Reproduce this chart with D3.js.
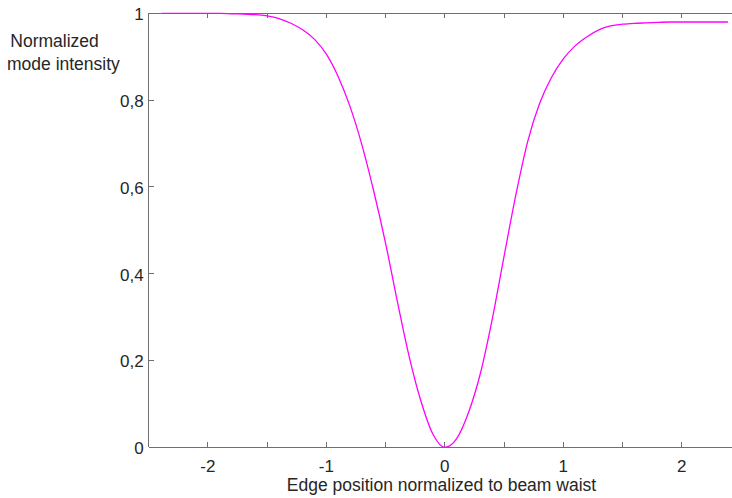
<!DOCTYPE html>
<html>
<head>
<meta charset="utf-8">
<script src="https://cdn.jsdelivr.net/npm/d3@7"></script>
<style>
  html, body { margin: 0; padding: 0; background: #fff; }
  svg { display: block; }
  text { font-family: "Liberation Sans", Arial, Helvetica, sans-serif; fill: #262626; }
</style>
</head>
<body>
<svg id="chart" width="732" height="498"></svg>
<script>
// Edge position (in units of the beam waist) and the normalized mode intensity
const edgePosition = [
  -2.39, -2.3, -2.2, -2.1, -2.0, -1.9, -1.8, -1.7, -1.6, -1.5, -1.4, -1.3, -1.2, -1.1,
  -1.0, -0.9, -0.8, -0.7, -0.6, -0.5, -0.4, -0.3, -0.2, -0.1, 0.0,
  0.1, 0.2, 0.3, 0.4, 0.5, 0.6, 0.7, 0.8, 0.9, 1.0, 1.1, 1.2, 1.3, 1.4,
  1.5, 1.6, 1.7, 1.8, 1.9, 2.0, 2.1, 2.2, 2.3, 2.39
];
const modeIntensity = [
  1.000, 1.000, 1.000, 1.000, 1.000, 1.000, 0.999, 0.998, 0.997, 0.994, 0.988, 0.977, 0.962, 0.940,
  0.906, 0.854, 0.785, 0.697, 0.590, 0.470, 0.335, 0.208, 0.105, 0.030, 0.000,
  0.020, 0.080, 0.170, 0.295, 0.440, 0.582, 0.705, 0.792, 0.852, 0.895, 0.925, 0.946, 0.962, 0.971,
  0.975, 0.977, 0.978, 0.979, 0.980, 0.980, 0.980, 0.980, 0.980, 0.980
];

// Axis ticks
const xTickValues = [-2, -1, 0, 1, 2];
const xTickLabels = ["-2", "-1", "0", "1", "2"];
const xMinorTicks = [-1.5, -0.5, 0.5, 1.5];
const yTickValues = [0, 0.2, 0.4, 0.6, 0.8, 1];
const yTickLabels = ["0", "0,2", "0,4", "0,6", "0,8", "1"];

const xLabel = "Edge position normalized to beam waist";
const yLabelLines = ["Normalized", "mode intensity"];

const svg = d3.select("#chart");
const W = 732;
const plotLeft = 148.7, plotTop = 13.3, plotBottom = 447.3;
const unit = 118.45;

const x = d3.scaleLinear().domain([-2.5, 2.5]).range([plotLeft, plotLeft + 5 * unit]);
const y = d3.scaleLinear().domain([0, 1]).range([plotBottom, plotTop]);

const axisColor = "#6f6f6f";
const tickLen = 5;

// Frame: bottom, top and left edges (the right edge lies past the page)
const frame = svg.append("g").attr("stroke", axisColor).attr("stroke-width", 1).attr("shape-rendering", "crispEdges");
frame.append("line").attr("x1", plotLeft).attr("x2", W).attr("y1", plotBottom).attr("y2", plotBottom);
frame.append("line").attr("x1", plotLeft).attr("x2", W).attr("y1", plotTop).attr("y2", plotTop);
frame.append("line").attr("x1", plotLeft).attr("x2", plotLeft).attr("y1", plotTop).attr("y2", plotBottom);

// X ticks on bottom and top, pointing inward
const allX = xTickValues.concat(xMinorTicks);
const xt = svg.append("g").attr("stroke", axisColor).attr("shape-rendering", "crispEdges");
allX.forEach(v => {
  xt.append("line").attr("x1", x(v)).attr("x2", x(v)).attr("y1", plotBottom).attr("y2", plotBottom - tickLen);
  xt.append("line").attr("x1", x(v)).attr("x2", x(v)).attr("y1", plotTop).attr("y2", plotTop + tickLen);
});

// Y ticks on the left, pointing inward
const yt = svg.append("g").attr("stroke", axisColor).attr("shape-rendering", "crispEdges");
yTickValues.forEach(v => {
  yt.append("line").attr("x1", plotLeft).attr("x2", plotLeft + tickLen).attr("y1", y(v)).attr("y2", y(v));
});

// Tick labels
svg.append("g").selectAll("text").data(xTickValues).join("text")
  .attr("x", d => x(d))
  .attr("y", 471.8)
  .attr("text-anchor", "middle")
  .attr("font-size", "17px")
  .text((d, i) => xTickLabels[i]);

svg.append("g").selectAll("text").data(yTickValues).join("text")
  .attr("x", plotLeft - 5)
  .attr("y", d => y(d))
  .attr("dy", "0.4em")
  .attr("text-anchor", "end")
  .attr("font-size", "17px")
  .text((d, i) => yTickLabels[i]);

// Axis titles
svg.append("text")
  .attr("x", 441.5)
  .attr("y", 491.2)
  .attr("text-anchor", "middle")
  .attr("font-size", "17.5px")
  .text(xLabel);

svg.append("text").attr("x", 10.3).attr("y", 47.3).attr("font-size", "17.5px").text(yLabelLines[0]);
svg.append("text").attr("x", 7).attr("y", 70).attr("font-size", "17.5px").text(yLabelLines[1]);

// Intensity curve
const line = d3.line()
  .x((d, i) => x(edgePosition[i]))
  .y(d => y(d))
  .curve(d3.curveMonotoneX);

svg.append("path")
  .datum(modeIntensity)
  .attr("d", line)
  .attr("fill", "none")
  .attr("stroke", "#ff00ff")
  .attr("stroke-width", 1.3);
</script>
</body>
</html>
